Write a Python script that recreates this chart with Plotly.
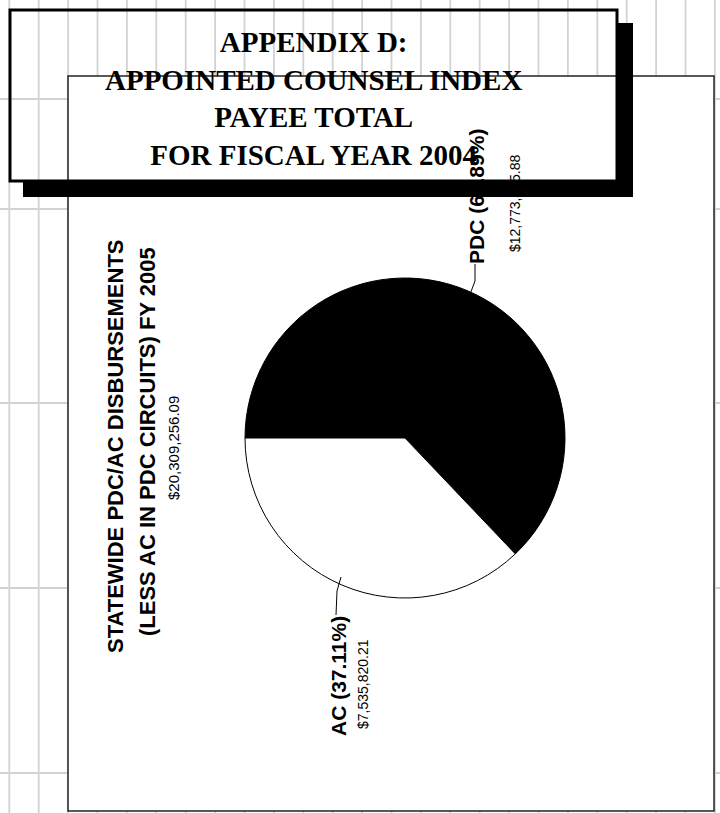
import plotly.graph_objects as go

# Data
labels = ['PDC', 'AC']
amounts = [12773435.88, 7535820.21]
total = sum(amounts)
pcts = [a / total * 100 for a in amounts]
slice_colors = ['black', 'white']

title_lines = ['APPENDIX D:', 'APPOINTED COUNSEL INDEX', 'PAYEE TOTAL', 'FOR FISCAL YEAR 2004']
chart_title = ['STATEWIDE PDC/AC DISBURSEMENTS', '(LESS AC IN PDC CIRCUITS) FY 2005']

W, H = 720, 813


def px(x):
    return x / W


def py(y):
    return 1 - y / H


SANS = "Liberation Sans, Arial, sans-serif"
SERIF = "Liberation Serif, Times New Roman, serif"

fig = go.Figure(go.Pie(
    labels=labels,
    values=amounts,
    sort=False,
    direction='clockwise',
    rotation=-90,
    marker=dict(colors=slice_colors, line=dict(color='black', width=1)),
    textinfo='none',
    hoverinfo='label+value+percent',
    showlegend=False,
    domain=dict(x=[px(245), px(565)], y=[py(598), py(278)]),
))

shapes = []
# background page grid
x = 9.3
while x < W:
    shapes.append(dict(type='line', xref='paper', yref='paper', layer='below',
                       x0=px(x), x1=px(x), y0=0, y1=1,
                       line=dict(color='#d2d2d2', width=1.8)))
    x += 29.4
for y in [99, 209, 403, 588, 773]:
    shapes.append(dict(type='line', xref='paper', yref='paper', layer='below',
                       x0=0, x1=1, y0=py(y), y1=py(y),
                       line=dict(color='#d2d2d2', width=1.8)))
# chart frame
shapes.append(dict(type='rect', xref='paper', yref='paper', layer='below',
                   x0=px(68), x1=px(714), y0=py(811), y1=py(76),
                   fillcolor='white', line=dict(color='#222', width=1.5)))
# leader lines
shapes.append(dict(type='path', xref='paper', yref='paper', layer='above',
                   path=f'M {px(469)} {py(297)} L {px(475)} {py(281)} L {px(475)} {py(264)}',
                   line=dict(color='black', width=1)))
shapes.append(dict(type='path', xref='paper', yref='paper', layer='above',
                   path=f'M {px(341)} {py(577)} L {px(337)} {py(591)} L {px(336)} {py(615)}',
                   line=dict(color='black', width=1)))
# title box shadow and outline
shapes.append(dict(type='rect', xref='paper', yref='paper', layer='above',
                   x0=px(617), x1=px(633), y0=py(197), y1=py(23),
                   fillcolor='black', line=dict(width=0)))
shapes.append(dict(type='rect', xref='paper', yref='paper', layer='above',
                   x0=px(23), x1=px(633), y0=py(197), y1=py(181),
                   fillcolor='black', line=dict(width=0)))
shapes.append(dict(type='rect', xref='paper', yref='paper', layer='above',
                   x0=px(10), x1=px(617), y0=py(181), y1=py(10),
                   fillcolor='rgba(0,0,0,0)', line=dict(color='black', width=3)))


def note(text, x, y, size, family=SANS, weight='bold', angle=-90):
    return dict(text=text, x=px(x), y=py(y), xref='paper', yref='paper',
                xanchor='center', yanchor='middle', showarrow=False,
                textangle=angle,
                font=dict(family=family, size=size, color='black', weight=weight))


annotations = [
    note('<br>'.join(title_lines), 313, 98, 29, family=SERIF, angle=0),
    note(chart_title[0], 115, 446, 22),
    note(chart_title[1], 148, 442, 22),
    note(f'${total:,.2f}', 173, 448, 15, weight='normal'),
    note(f'{labels[0]} ({pcts[0]:.2f}%)', 476, 197, 21),
    note(f'${amounts[0]:,.2f}', 515, 203, 14, weight='normal'),
    note(f'{labels[1]} ({pcts[1]:.2f}%)', 338, 676, 21),
    note(f'${amounts[1]:,.2f}', 363, 684, 14, weight='normal'),
]

fig.update_layout(
    width=W, height=H,
    margin=dict(l=0, r=0, t=0, b=0),
    paper_bgcolor='white',
    plot_bgcolor='white',
    shapes=shapes,
    annotations=annotations,
)

fig.write_html("out.html", config={'displayModeBar': False},
               post_script="document.body.style.margin='0';document.body.style.overflow='hidden';")
